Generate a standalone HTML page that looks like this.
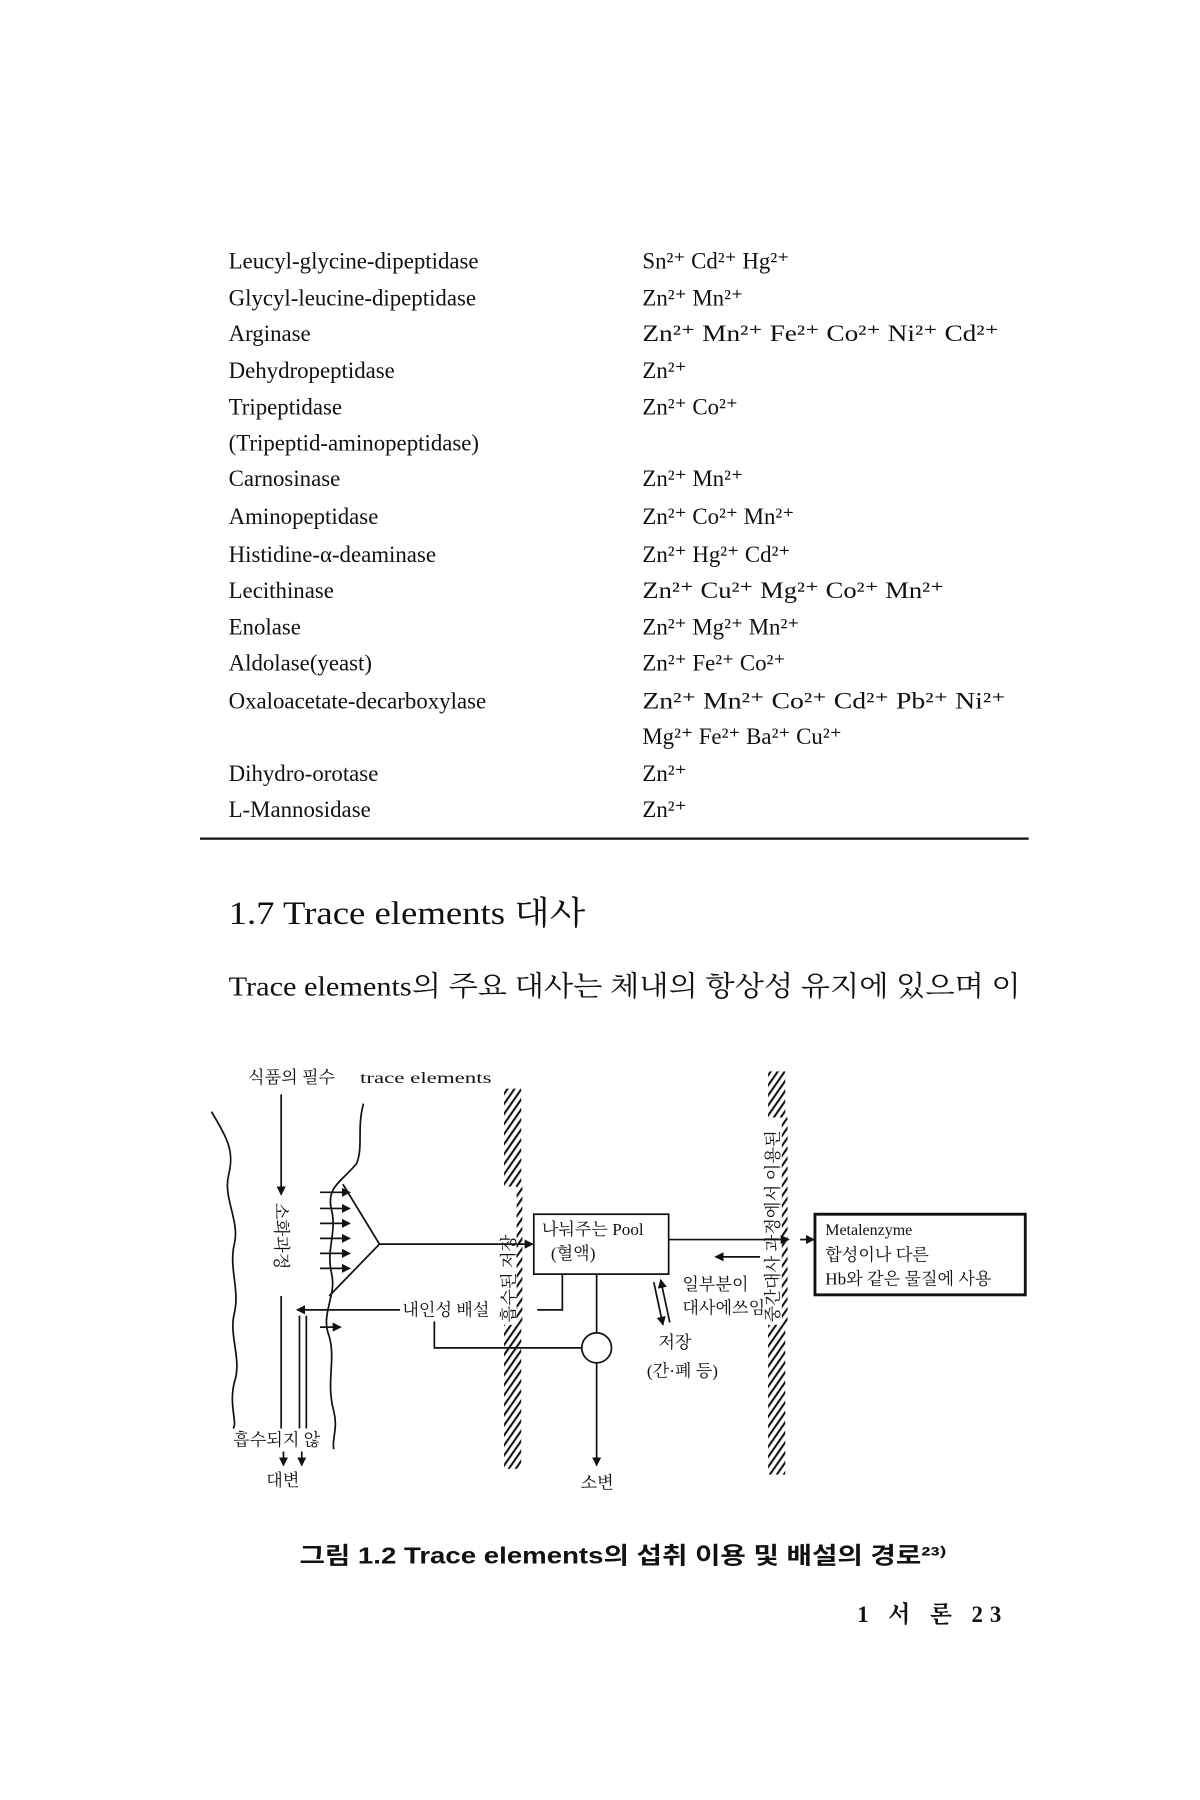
<!DOCTYPE html>
<html><head><meta charset="utf-8"><style>
html,body{margin:0;padding:0;background:#fff;}
svg{display:block}
text{font-family:"Liberation Serif","Noto Serif CJK SC","Noto Sans CJK KR",serif;fill:#111}
.k{font-family:"Liberation Sans","Noto Sans CJK KR",sans-serif}
</style></head><body>
<svg width="1200" height="1800" viewBox="0 0 1200 1800" xmlns="http://www.w3.org/2000/svg">
<defs>
<pattern id="h" width="5" height="5" patternUnits="userSpaceOnUse" patternTransform="rotate(35)">
<rect x="0" y="0" width="1.8" height="5" fill="#111"/>
</pattern>
<marker id="a" markerWidth="8" markerHeight="8" refX="7" refY="4" orient="auto" markerUnits="userSpaceOnUse"><path d="M0,0 L8,4 L0,8 z" fill="#111"/></marker>
</defs>
<g transform="scale(1.143,1.152)">
<g font-size="20">
<text x="200" y="233">Leucyl-glycine-dipeptidase</text><text x="562" y="233">Sn²⁺ Cd²⁺ Hg²⁺</text>
<text x="200" y="265">Glycyl-leucine-dipeptidase</text><text x="562" y="265">Zn²⁺ Mn²⁺</text>
<text x="200" y="296">Arginase</text><text x="562" y="296" textLength="312" lengthAdjust="spacingAndGlyphs">Zn²⁺ Mn²⁺ Fe²⁺ Co²⁺ Ni²⁺ Cd²⁺</text>
<text x="200" y="328">Dehydropeptidase</text><text x="562" y="328">Zn²⁺</text>
<text x="200" y="360">Tripeptidase</text><text x="562" y="360">Zn²⁺ Co²⁺</text>
<text x="200" y="391">(Tripeptid-aminopeptidase)</text>
<text x="200" y="422">Carnosinase</text><text x="562" y="422">Zn²⁺ Mn²⁺</text>
<text x="200" y="455">Aminopeptidase</text><text x="562" y="455">Zn²⁺ Co²⁺ Mn²⁺</text>
<text x="200" y="488">Histidine-α-deaminase</text><text x="562" y="488">Zn²⁺ Hg²⁺ Cd²⁺</text>
<text x="200" y="519">Lecithinase</text><text x="562" y="519" textLength="264" lengthAdjust="spacingAndGlyphs">Zn²⁺ Cu²⁺ Mg²⁺ Co²⁺ Mn²⁺</text>
<text x="200" y="551">Enolase</text><text x="562" y="551">Zn²⁺ Mg²⁺ Mn²⁺</text>
<text x="200" y="582">Aldolase(yeast)</text><text x="562" y="582">Zn²⁺ Fe²⁺ Co²⁺</text>
<text x="200" y="615">Oxaloacetate-decarboxylase</text><text x="562" y="615" textLength="318" lengthAdjust="spacingAndGlyphs">Zn²⁺ Mn²⁺ Co²⁺ Cd²⁺ Pb²⁺ Ni²⁺</text>
<text x="562" y="646">Mg²⁺ Fe²⁺ Ba²⁺ Cu²⁺</text>
<text x="200" y="678">Dihydro-orotase</text><text x="562" y="678">Zn²⁺</text>
<text x="200" y="709">L-Mannosidase</text><text x="562" y="709">Zn²⁺</text>
</g>
<line x1="175" y1="728" x2="900" y2="728" stroke="#111" stroke-width="2"/>
<text x="200" y="802" font-size="28" textLength="312" lengthAdjust="spacingAndGlyphs">1.7 Trace elements 대사</text>
<text x="200" y="864" font-size="24" textLength="693" lengthAdjust="spacingAndGlyphs">Trace elements의 주요 대사는 체내의 항상성 유지에 있으며 이</text>

<g stroke="#111" stroke-width="1.5" fill="none">
<rect x="441" y="945" width="15" height="85" fill="url(#h)" stroke="none"/>
<rect x="452" y="1030" width="5" height="120" fill="url(#h)" stroke="none"/>
<rect x="441" y="1150" width="15" height="125" fill="url(#h)" stroke="none"/>
<rect x="672" y="930" width="15" height="40" fill="url(#h)" stroke="none"/>
<rect x="684" y="970" width="5" height="180" fill="url(#h)" stroke="none"/>
<rect x="672" y="1150" width="15" height="130" fill="url(#h)" stroke="none"/>
<path d="M185,965 C200,990 205,1000 200,1020 C195,1040 210,1060 205,1080 C200,1100 210,1120 205,1140 C200,1160 212,1180 205,1200 C200,1220 208,1235 204,1240"/>
<path d="M318,958 C312,980 318,995 312,1010 C300,1025 285,1030 290,1050 C295,1070 285,1085 290,1105 C295,1125 280,1140 288,1160 C294,1180 285,1200 292,1225 C296,1240 290,1250 292,1258"/>
<line x1="246" y1="950" x2="246" y2="1037" marker-end="url(#a)"/>
<line x1="246" y1="1125" x2="246" y2="1240"/>
<line x1="262" y1="1142" x2="262" y2="1240"/>
<line x1="268" y1="1142" x2="268" y2="1240"/>
<line x1="248" y1="1260" x2="248" y2="1272" marker-end="url(#a)"/>
<line x1="264" y1="1260" x2="264" y2="1272" marker-end="url(#a)"/>
<line x1="280" y1="1035" x2="306" y2="1035" marker-end="url(#a)"/>
<line x1="280" y1="1049" x2="306" y2="1049" marker-end="url(#a)"/>
<line x1="280" y1="1062" x2="306" y2="1062" marker-end="url(#a)"/>
<line x1="280" y1="1075" x2="306" y2="1075" marker-end="url(#a)"/>
<line x1="280" y1="1088" x2="306" y2="1088" marker-end="url(#a)"/>
<line x1="280" y1="1101" x2="306" y2="1101" marker-end="url(#a)"/>
<line x1="280" y1="1152" x2="298" y2="1152" marker-end="url(#a)"/>
<polyline points="300,1028 332,1080 288,1125"/>
<line x1="332" y1="1080" x2="466" y2="1080" marker-end="url(#a)"/>
<rect x="467" y="1054" width="118" height="52"/>
<line x1="585" y1="1076" x2="690" y2="1076" marker-end="url(#a)"/>
<line x1="700" y1="1076" x2="712" y2="1076" marker-end="url(#a)"/>
<line x1="665" y1="1091" x2="626" y2="1091" marker-end="url(#a)"/>
<rect x="713" y="1054" width="184" height="70" stroke-width="2.5"/>
<polyline points="492,1106 492,1137 470,1137"/>
<line x1="350" y1="1137" x2="260" y2="1137" marker-end="url(#a)"/>
<line x1="522" y1="1106" x2="522" y2="1157"/>
<circle cx="522" cy="1170" r="13"/>
<line x1="522" y1="1183" x2="522" y2="1272" marker-end="url(#a)"/>
<polyline points="380,1147 380,1170 509,1170"/>
<line x1="572" y1="1113" x2="580" y2="1150" marker-end="url(#a)"/>
<line x1="586" y1="1148" x2="578" y2="1111" marker-end="url(#a)"/>
</g>
<g class="k" font-size="15">
<text x="217" y="940">식품의 필수</text><text x="315" y="940" font-size="14" textLength="115" lengthAdjust="spacingAndGlyphs">trace elements</text>
<text x="352" y="1142">내인성 배설</text>
<text x="474" y="1072">나눠주는 Pool</text>
<text x="482" y="1093">(혈액)</text>
<text x="722" y="1072" font-size="14">Metalenzyme</text>
<text x="722" y="1094">합성이나 다른</text>
<text x="722" y="1115">Hb와 같은 물질에 사용</text>
<text x="597" y="1120">일부분이</text>
<text x="597" y="1140">대사에쓰임</text>
<text x="576" y="1170">저장</text>
<text x="566" y="1195">(간·폐 등)</text>
<text x="204" y="1255">흡수되지 않</text>
<text x="233" y="1290">대변</text>
<text x="508" y="1292">소변</text>
<text transform="translate(241,1044) rotate(90)">소화과정</text>
<text transform="translate(450,1148) rotate(-90)">흡수된 저장</text>
<text transform="translate(681,1148) rotate(-90)">중간대사 과정에서 이용된</text>
</g>
<text x="262" y="1357" font-size="20" class="k" font-weight="bold" textLength="566" lengthAdjust="spacingAndGlyphs">그림 1.2  Trace elements의 섭취 이용 및 배설의 경로²³⁾</text>
<text x="750" y="1408" font-size="20" font-weight="bold" textLength="126">1 서  론  23</text>
</g>
</svg>
</body></html>
